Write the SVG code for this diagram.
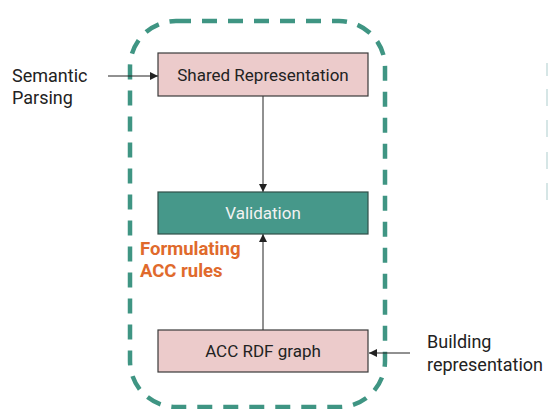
<svg xmlns="http://www.w3.org/2000/svg" width="548" height="409" viewBox="0 0 548 409">
  <style>
    .label { font-family: Roboto, "Liberation Sans", sans-serif; font-size: 18px; fill: #222; }
    .box-text { font-family: Roboto, "Liberation Sans", sans-serif; font-size: 17px; text-anchor: middle; }
    .pink { fill: #eccbcb; stroke: #3a3a3a; stroke-width: 1.2; }
    .teal { fill: #46988a; stroke: #2f4f48; stroke-width: 1.2; }
    .edge { stroke: #222; stroke-width: 1; fill: none; }
    .note { font-family: Roboto, "Liberation Sans", sans-serif; font-size: 18.5px; font-weight: bold; fill: #e06a2c; }
  </style>
  <defs>
    <marker id="arrow" viewBox="0 0 10 10" refX="10" refY="5" markerWidth="8" markerHeight="8" markerUnits="userSpaceOnUse" orient="auto">
      <path d="M0,0 L10,5 L0,10 z" fill="#222"/>
    </marker>
  </defs>
  <rect width="548" height="409" fill="#ffffff"/>

  <!-- dashed boundary of the rule-formulation stage -->
  <g id="boundary">
    <rect x="130" y="21" width="255" height="386" rx="46" ry="46" fill="none" stroke="#3f9583" stroke-width="4.5" stroke-dasharray="15 11"/>
  </g>

  <!-- faint bars at the right edge -->
  <g id="edge-marks" fill="#d6e6e6">
    <rect x="546" y="63" width="2" height="13"/>
    <rect x="546" y="89" width="2" height="17"/>
    <rect x="546" y="120" width="2" height="17"/>
    <rect x="546" y="152" width="2" height="17"/>
    <rect x="546" y="183" width="2" height="17"/>
  </g>

  <g id="connectors">
    <line class="edge" x1="108" y1="76" x2="158" y2="76" marker-end="url(#arrow)"/>
    <line class="edge" x1="263" y1="96" x2="263" y2="192" marker-end="url(#arrow)"/>
    <line class="edge" x1="263" y1="330" x2="263" y2="234" marker-end="url(#arrow)"/>
    <line class="edge" x1="410" y1="353" x2="369" y2="353" marker-end="url(#arrow)"/>
  </g>

  <g id="semantic-parsing">
    <text class="label" x="12" y="82">Semantic</text>
    <text class="label" x="12" y="104">Parsing</text>
  </g>

  <g id="shared-representation">
    <rect class="pink" x="158" y="53" width="210" height="43"/>
    <text class="box-text" x="263" y="81" fill="#222">Shared Representation</text>
  </g>

  <g id="validation">
    <rect class="teal" x="158" y="192" width="210" height="42"/>
    <text class="box-text" x="263" y="219" fill="#f2f2f2">Validation</text>
  </g>

  <g id="formulating-acc-rules">
    <text class="note" x="140" y="255">Formulating</text>
    <text class="note" x="140" y="277">ACC rules</text>
  </g>

  <g id="acc-rdf-graph">
    <rect class="pink" x="158" y="330" width="210" height="42"/>
    <text class="box-text" x="263" y="357" fill="#222">ACC RDF graph</text>
  </g>

  <g id="building-representation">
    <text class="label" x="427" y="348">Building</text>
    <text class="label" x="427" y="371">representation</text>
  </g>
</svg>
